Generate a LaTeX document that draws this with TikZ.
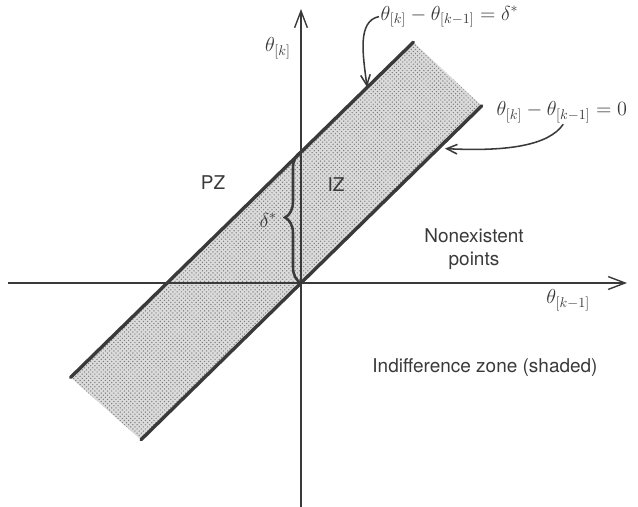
\documentclass[tikz,border=0pt]{standalone}
\usepackage{amsmath}
\usepackage{fontspec}
\setmainfont{TeX Gyre Heros}
\usetikzlibrary{arrows.meta, decorations.pathreplacing, patterns}
\definecolor{InkGray}{HTML}{3A3A3A}
\definecolor{DotGray}{HTML}{7A7A7A}

\begin{document}
\begin{tikzpicture}[
    axisline/.style={line width=1pt, InkGray, -{Straight Barb[length=4.2mm, width=3.2mm, line width=1pt]}},
    bandline/.style={line width=2.4pt, InkGray, line cap=round},
    pointer/.style={line width=1.1pt, InkGray, -{Straight Barb[length=2.6mm, width=2.4mm, line width=1.1pt]}},
    lbl/.style={font=\fontsize{13.5}{16}\selectfont, InkGray, inner sep=1pt},
    mathlbl/.style={font=\fontsize{14}{16}\selectfont, InkGray, inner sep=1pt}
  ]
    \useasboundingbox (-7.525,-5.6) rectangle (8.425,7.075);
    % Corners of the band
    \coordinate (O) at (0,0);
    \coordinate (A1) at (-4.0,-3.92);
    \coordinate (A2) at (4.52,4.43);
    \coordinate (B1) at (-5.76,-2.36);
    \coordinate (B2) at (2.81,6.02);
    \coordinate (D) at (0,3.275);
    % Indifference zone (shaded)
    \fill[gray!28] (A1) -- (A2) -- (B2) -- (B1) -- cycle;
    \fill[pattern=crosshatch dots, pattern color=DotGray] (A1) -- (A2) -- (B2) -- (B1) -- cycle;
    % Axes
    \coordinate (xstart) at (-7.325,0);
    \coordinate (xend) at (8.15,0);
    \coordinate (ystart) at (0,-5.6);
    \coordinate (yend) at (0,6.85);
    \draw[axisline] (xstart) -- (xend);
    \draw[axisline] (ystart) -- (yend);
    % Band boundaries
    \draw[bandline] (A1) -- (A2);
    \draw[bandline] (B1) -- (B2);
    % Brace for delta*
    \draw[line width=1.8pt, InkGray, decorate,
          decoration={brace, amplitude=0.4cm}] (O) -- (D);
    % Axis labels
    \node[mathlbl] (ylab) at (-0.575,5.875) {$\theta_{[k]}$};
    \node[mathlbl] (xlab) at (6.68,-0.425) {$\theta_{[k-1]}$};
    % Equations with pointers
    \node[mathlbl, right] (eqtop) at (1.95,6.66) {$\theta_{[k]} - \theta_{[k-1]} = \delta^{*}$};
    \node[mathlbl, right] (eqzero) at (4.85,4.275) {$\theta_{[k]} - \theta_{[k-1]} = 0$};
    \coordinate (tipA) at (1.65,4.9);
    \coordinate (tipB) at (3.6,3.36);
    \draw[pointer] (eqtop.west) .. controls (1.4,6.55) and (1.55,5.7) .. (tipA);
    \draw[pointer] ([xshift=1pt]eqzero.south) .. controls (6.2,3.45) and (5.2,3.28) .. (tipB);
    % Zone labels
    \node[lbl] (pz) at (-2.2,2.5) {PZ};
    \node[lbl] (iz) at (0.875,2.45) {IZ};
    \node[mathlbl] (dlab) at (-0.82,1.575) {$\delta^{*}$};
    \node[lbl, align=center] (nonex) at (4.325,0.85) {Nonexistent\\points};
    \node[lbl] (izone) at (4.6,-2.125) {Indifference zone (shaded)};
\end{tikzpicture}
\end{document}
